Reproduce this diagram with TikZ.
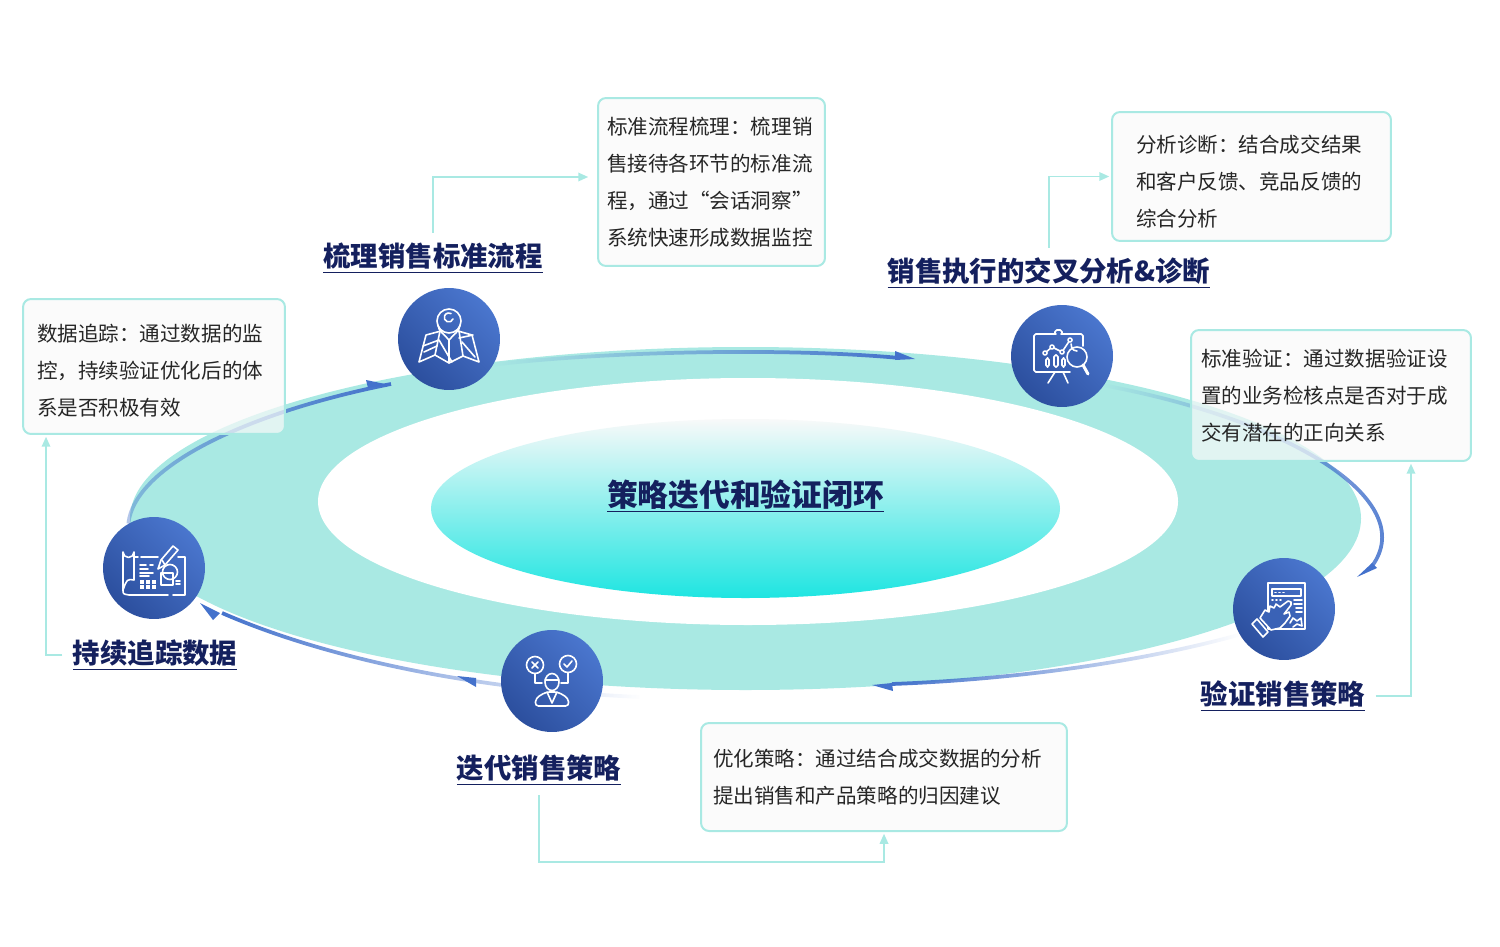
\documentclass[tikz,border=0pt]{standalone}
\usepackage{fontspec}
\setmainfont{Noto Sans CJK SC}
\usepackage{xcolor}
\usetikzlibrary{arrows.meta, calc, backgrounds, fadings}
\definecolor{ringc}{HTML}{A9E9E3}
\definecolor{corec}{HTML}{1EE5E1}
\definecolor{corew}{HTML}{F8F9F9}
\definecolor{arcc}{HTML}{4472CC}
\definecolor{circl}{HTML}{4A76CE}
\definecolor{circd}{HTML}{2C4F9E}
\definecolor{circm}{HTML}{3A62B6}
\definecolor{navy}{HTML}{14205E}
\definecolor{boxc}{HTML}{F9F9F9}
\definecolor{bodyc}{HTML}{262626}
\tikzfading[name=arcfade, left color=transparent!100, middle color=transparent!35, right color=transparent!0]
\tikzfading[name=arcfadeb, left color=transparent!60, middle color=transparent!5, right color=transparent!0]

\begin{document}
\begin{tikzpicture}[
    x=0.02cm, y=-0.02cm,
    c/.style={circle, minimum size=2.04cm, inner sep=0pt, shade, left color=circl, right color=circd, shading angle=-45},
    b/.style={draw=ringc, line width=0.04cm, fill=boxc, fill opacity=0.7, text opacity=1, rounded corners=0.16cm, align=left, text=bodyc, font=\fontsize{11.7}{21}\selectfont},
    t/.style={inner sep=0.2cm, text=navy, font=\fontsize{15.6}{18}\selectfont\bfseries},
    conn/.style={draw=ringc, line width=0.035cm, -{Triangle[length=0.2cm, width=0.17cm]}, shorten >=1pt},
    arcline/.style={draw=arcc, line width=0.075cm, path fading=arcfade},
    head/.style={fill=arcc},
    icn/.style={draw=white, line width=0.032cm, line join=round, line cap=round},
    iconmap/.pic={
        \draw[icn] (-11,-14) .. controls (-11,-8) and (-4,-4) .. (0,1) .. controls (4,-4) and (11,-8) .. (11,-14);
        \draw[icn] (0,-30) arc (-90:270:12);
        \draw[icn] (4,-20) arc (20:300:4.5);
        \draw[icn] (-8,-8) -- (-23,-4) -- (-30,23) -- (-14,16) -- (0,24) -- (14,17) -- (30,23) -- (23,-4) -- (9,-8);
        \draw[icn] (-9,-8) -- (-14,16) (0,1) -- (0,24) (10,-8) -- (14,17);
        \draw[icn] (-26,7) -- (-10,1) -- (3,23) (-25,13) -- (-12,7) (10,-1) -- (24,-4) (13,3) -- (26,18);
    },
    iconchart/.pic={
        \draw[icn, rounded corners=1pt] (-6,-22) -- (-28,-22) -- (-28,16) -- (8,16);
        \draw[icn, rounded corners=1pt] (-1,-22) -- (21,-22) -- (21,-10);
        \draw[icn, rounded corners=1pt] (-7,-22) -- (-7,-26) -- (0,-26) -- (0,-22);
        \draw[icn] (-7,16) -- (-14,27) (1,16) -- (6,27);
        \draw[icn] (-17,-3) -- (-10,-9) -- (0,-4) -- (8,-16);
        \foreach \p in {(-17,-3), (-10,-9), (0,-4), (8,-16)}
            \draw[icn, fill=circm] \p circle (2);
        \draw[icn, rounded corners=1pt] (-16,2) rectangle (-13,11) (-8,-1) rectangle (-4,11) (0,2) rectangle (3,11);
        \draw[icn, fill=circm] (15,1) circle (10);
        \draw[icn] (15,-5) arc (90:190:6);
        \draw[icn, line width=0.06cm] (21,9) -- (26,18);
    },
    iconhand/.pic={
        \draw[icn, line width=0.04cm] (-16,-26) rectangle (21,20);
        \draw[icn] (-12,-20) rectangle (17,-13);
        \draw[icn] (-9,-16.5) -- (-8,-16.5) (-5,-16.5) -- (-4,-16.5) (-1,-16.5) -- (0,-16.5);
        \draw[icn] (-12,-9) -- (-11,-9) (-8,-9) -- (-7,-9) (-4,-9) -- (-3,-9);
        \draw[icn] (10,-9) -- (18,-9) (10,-5) -- (18,-5) (12,-1) -- (18,-1) (12,3) -- (18,3);
        \draw[icn] (6,14) -- (9,9) -- (13,12) -- (17,9) -- (18,17) -- (13,15) -- (9,18);
        \draw[icn, fill=circm] (-24,9) -- (-19,1) -- (-15,3) -- (-14,-3) -- (-10,-1) -- (-8,-5) -- (-4,-2) -- (4,-8) -- (7,-7) -- (7,-4) -- (0,5) -- (5,3) -- (6,7) -- (1,14) -- (-4,19) -- (-13,21) -- cycle;
        \draw[icn, fill=circm] (-32,15) -- (-27,10) -- (-16,23) -- (-21,28) -- cycle;
    },
    iconuser/.pic={
        \draw[icn] (-17,-16) circle (8.5) (16,-17) circle (8.5);
        \draw[icn] (-20,-19) -- (-14,-13) (-14,-19) -- (-20,-13);
        \draw[icn] (12,-17) -- (15,-14) -- (20,-20);
        \draw[icn] (-17,-7.5) -- (-17,2) -- (-10,2) (16,-8.5) -- (16,2) -- (9,2);
        \draw[icn] (0,1) ellipse [x radius=7, y radius=8.5];
        \draw[icn] (-7,-1) -- (7,-1);
        \draw[icn, rounded corners=2pt] (-17,25) -- (-16,17) -- (-6,11) -- (6,11) -- (16,17) -- (17,25) -- cycle;
        \draw[icn] (-5,11) -- (0,22) -- (5,11);
    },
    iconplan/.pic={
        \draw[icn] (-31,22) -- (-31,-16) arc (180:0:5.5) -- (-20,12) .. controls (-27,11) .. (-31,22);
        \draw[icn] (-31,22) .. controls (-31,26) .. (-25,27) -- (14,27) (19,27) -- (31,27) -- (31,-11) -- (24,-11);
        \draw[icn] (-20,-11) -- (-16,-11) (-13,-11) -- (4,-11);
        \draw[icn] (4,1) -- (7,-8) -- (19,-22) -- (24,-18) -- (11,-3) -- cycle;
        \draw[icn] (8,-8) -- (11,-3);
        \draw[icn] (-14,-3) -- (-8,-3) (-4,-3) -- (-1,-3) (-14,1) -- (-6,1) (-14,5) -- (-1,5) (-14,8) -- (-5,8);
        \foreach \u in {-14, -8, -2}
            \foreach \v in {12, 17}
                \fill[white] (\u,\v) rectangle ++(4,3.5);
        \draw[icn] (7,5) rectangle (19,17);
        \draw[icn] (16,4) circle (7.5);
        \draw[icn] (22,13) -- (26,13) (22,16) -- (26,16);
    }
]
    \useasboundingbox (0,0) rectangle (1500,946);

    % ===== circles =====
    \node[c] (c1) at (449, 339) {};
    \node[c] (c2) at (1062, 356) {};
    \node[c] (c3) at (1284, 609) {};
    \node[c] (c4) at (552, 681) {};
    \node[c] (c5) at (154, 568) {};
    \pic at (c1) {iconmap};
    \pic at (c2) {iconchart};
    \pic at (c3) {iconhand};
    \pic at (c4) {iconuser};
    \pic at (c5) {iconplan};

    % ===== ring and arcs =====
    \begin{scope}[on background layer]
        \fill[ringc] (745.5, 518.5) ellipse [x radius=615.5, y radius=171.5];
        \fill[white] (748, 501.5) ellipse [x radius=430, y radius=123.5];
        \shade[top color=corew, middle color=corec!45!white, bottom color=corec] (745.5, 508.5) ellipse [x radius=314.5, y radius=89.5];

        \coordinate (a1) at (391, 384);
        \coordinate (a2) at (900, 358);
        \coordinate (a3) at (1372, 566);
        \coordinate (a4) at (892, 684);
        \coordinate (e4) at (640, 697);
        \coordinate (a5) at (222, 613);
        \draw[arcline, path fading=arcfadeb] (c5.120) .. controls (135, 465) and (250, 412) .. (a1);
        \draw[arcline] (c1.-30) .. controls (600, 352) and (780, 347) .. (a2);
        \draw[arcline] (c2.-35) .. controls (1290, 420) and (1420, 500) .. (a3);
        \draw[arcline, fading angle=180] (c3.210) .. controls (1130, 665) and (1000, 680) .. (a4);
        \draw[arcline, fading angle=180] (e4) .. controls (480, 690) and (330, 660) .. (a5);

        \fill[head] (366, 380) -- (390, 385) -- (368, 388) -- cycle;
        \fill[head] (895, 351) -- (915, 359) -- (895, 360) -- cycle;
        \fill[head] (1357, 577) -- (1377, 568) -- (1372, 563) -- cycle;
        \fill[head] (872, 685) -- (893, 691) -- (892, 683) -- cycle;
        \fill[head] (457, 676) -- (476, 687) -- (476, 678) -- cycle;
        \fill[head] (200, 603) -- (213, 620) -- (220, 613) -- cycle;
    \end{scope}

    \node[font=\fontsize{17.5}{20}\selectfont\bfseries, text=navy] (core) at (745.5, 496) {\underline{策略迭代和验证闭环}};

    % ===== text boxes =====
    \node[b, text width=4.18cm, inner xsep=0.18cm, minimum height=3.36cm] (b1) at (711.5, 182)
        {标准流程梳理：梳理销\\售接待各环节的标准流\\程，通过“会话洞察”\\系统快速形成数据监控};
    \node[b, text width=4.62cm, inner xsep=0.48cm, minimum height=2.58cm] (b2) at (1251.5, 176.5)
        {\rule{0pt}{0.54cm}分析诊断：结合成交结果\\和客户反馈、竞品反馈的\\综合分析};
    \node[b, text width=5.2cm, inner xsep=0.2cm, minimum height=2.62cm] (b3) at (1331, 395.5)
        {标准验证：通过数据验证设\\置的业务检核点是否对于成\\交有潜在的正向关系};
    \node[b, text width=6.84cm, inner xsep=0.24cm, minimum height=2.16cm] (b4) at (884, 777)
        {优化策略：通过结合成交数据的分析\\提出销售和产品策略的归因建议};
    \node[b, text width=4.68cm, inner xsep=0.28cm, minimum height=2.7cm] (b5) at (154, 366.5)
        {\rule{0pt}{0.5cm}数据追踪：通过数据的监\\控，持续验证优化后的体\\系是否积极有效};

    % ===== titles =====
    \node[t] (t1) at (433, 258) {\underline{梳理销售标准流程}};
    \node[t] (t2) at (1049, 273) {\underline{销售执行的交叉分析\&诊断}};
    \node[t] (t3) at (1283, 696) {\underline{验证销售策略}};
    \node[t] (t4) at (539, 770) {\underline{迭代销售策略}};
    \node[t] (t5) at (155, 655) {\underline{持续追踪数据}};

    % ===== connectors =====
    \coordinate (j4) at (700, 862);
    \draw[conn, shorten >=5pt] (t1.north) |- ([yshift=0.1cm]b1.west);
    \draw[conn] (t2.north) |- (b2.west);
    \draw[conn] (t3.east) -| ([xshift=1.6cm]b3.south);
    \draw[conn] (t4.south) |- (j4) -| (b4.south);
    \draw[conn] (t5.west) -| ([xshift=-2.16cm]b5.south);
\end{tikzpicture}
\end{document}
